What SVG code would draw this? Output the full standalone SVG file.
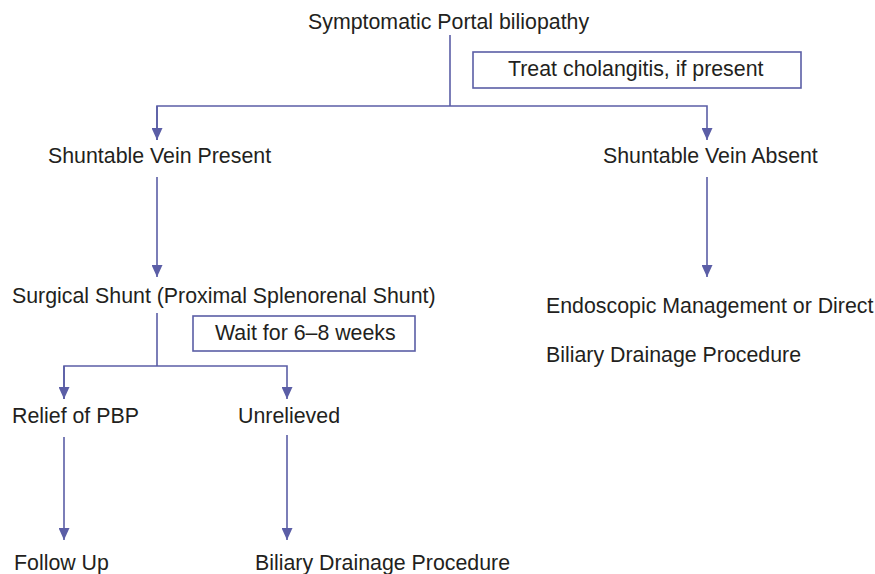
<svg xmlns="http://www.w3.org/2000/svg" width="875" height="574" viewBox="0 0 875 574">
<style>
text{font-family:"Liberation Sans",Arial,sans-serif;font-size:21.35px;fill:#231f20}
.ln{stroke:#5b5ea6;stroke-width:1.6;fill:none}
.box{stroke:#5b5ea6;stroke-width:1.6;fill:#fff}
</style>
<defs>
<marker id="ah" viewBox="0 0 12 11" refX="12" refY="5.5" markerWidth="12" markerHeight="11" markerUnits="userSpaceOnUse" orient="auto">
<path d="M0,0 L12,5.5 L0,11 z" fill="#5b5ea6"/>
</marker>
</defs>
<rect width="875" height="574" fill="#fff"/>
<g id="connectors">
<polyline class="ln" points="450,35 450,106"/>
<polyline class="ln" points="157,140 157,106 707,106 707,140" marker-end="url(#ah)"/>
<line class="ln" x1="157" y1="106" x2="157" y2="140" marker-end="url(#ah)"/>
<line class="ln" x1="157" y1="177" x2="157" y2="277" marker-end="url(#ah)"/>
<line class="ln" x1="707" y1="177" x2="707" y2="277" marker-end="url(#ah)"/>
<polyline class="ln" points="157,313 157,366"/>
<polyline class="ln" points="64,399 64,366 287,366 287,399" marker-end="url(#ah)"/>
<line class="ln" x1="64" y1="366" x2="64" y2="399" marker-end="url(#ah)"/>
<line class="ln" x1="64" y1="437" x2="64" y2="540" marker-end="url(#ah)"/>
<line class="ln" x1="287" y1="435" x2="287" y2="540" marker-end="url(#ah)"/>
</g>
<g id="root"><text x="308" y="29">Symptomatic Portal biliopathy</text></g>
<g id="treat"><rect class="box" x="473" y="52" width="328" height="36"/><text x="508" y="76">Treat cholangitis, if present</text></g>
<g id="present"><text x="48" y="163">Shuntable Vein Present</text></g>
<g id="absent"><text x="603" y="163">Shuntable Vein Absent</text></g>
<g id="shunt"><text x="12" y="303">Surgical Shunt (Proximal Splenorenal Shunt)</text></g>
<g id="wait"><rect class="box" x="193" y="316" width="222" height="35"/><text x="215" y="340">Wait for 6–8 weeks</text></g>
<g id="endo"><text x="546" y="313">Endoscopic Management or Direct</text><text x="546" y="362">Biliary Drainage Procedure</text></g>
<g id="relief"><text x="12" y="423">Relief of PBP</text></g>
<g id="unrelieved"><text x="238" y="423">Unrelieved</text></g>
<g id="followup"><text x="14" y="570">Follow Up</text></g>
<g id="biliary"><text x="255" y="570">Biliary Drainage Procedure</text></g>
</svg>
